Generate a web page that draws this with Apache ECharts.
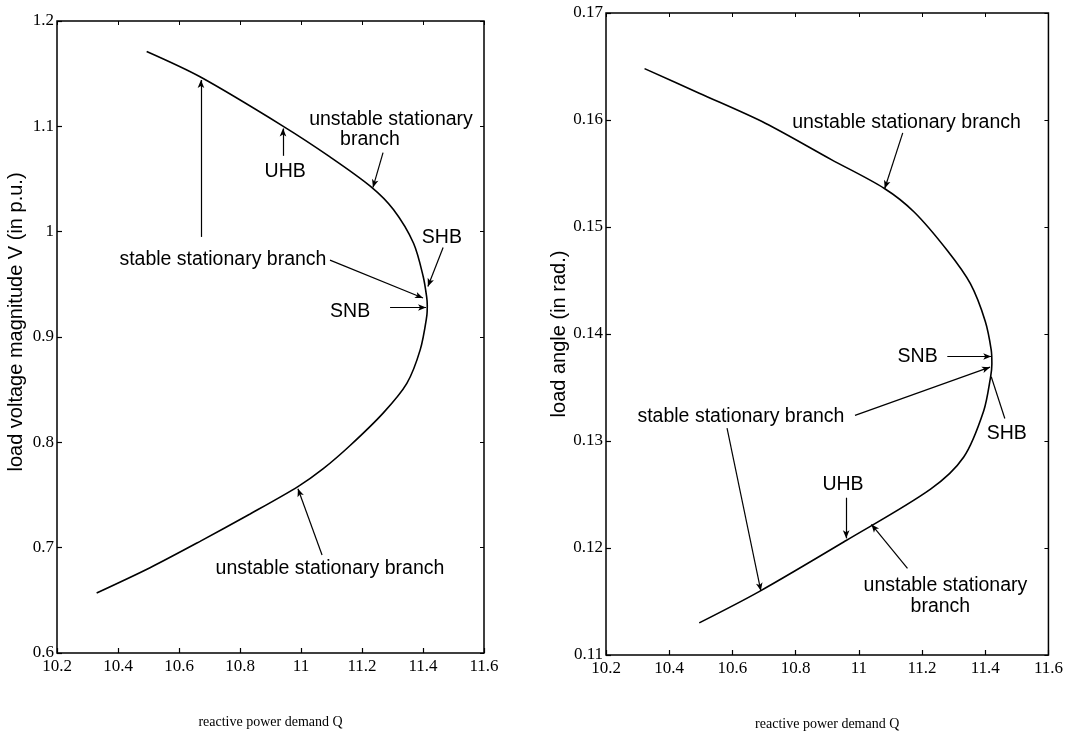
<!DOCTYPE html>
<html>
<head>
<meta charset="utf-8">
<script src="https://cdn.jsdelivr.net/npm/echarts@6/dist/echarts.min.js"></script>
<style>html,body{margin:0;padding:0;background:#fff;}#c{width:1066px;height:744px;}</style>
</head>
<body>
<div id="c"></div>
<script>
// ---- data ----
const qTicks = ['10.2','10.4','10.6','10.8','11','11.2','11.4','11.6'];
const vTicks = ['0.6','0.7','0.8','0.9','1','1.1','1.2'];
const dTicks = ['0.11','0.12','0.13','0.14','0.15','0.16','0.17'];

// left: load voltage magnitude V vs reactive power demand Q
const leftQ = [10.494, 10.669, 10.942, 11.095, 11.228, 11.303, 11.369, 11.401, 11.412, 11.414, 11.412, 11.391, 11.347, 11.270, 11.161, 11.073, 10.990, 10.833, 10.669, 10.505, 10.330];
const leftV = [1.171, 1.147, 1.100, 1.071, 1.043, 1.021, 0.989, 0.957, 0.938, 0.930, 0.919, 0.888, 0.856, 0.828, 0.797, 0.775, 0.758, 0.732, 0.706, 0.681, 0.657];

// right: load angle vs reactive power demand Q
const rightQ = [10.322, 10.495, 10.704, 10.913, 11.081, 11.175, 11.280, 11.353, 11.400, 11.419, 11.421, 11.417, 11.395, 11.332, 11.227, 10.960, 10.683, 10.495];
const rightD = [0.1648, 0.1625, 0.1597, 0.1563, 0.1536, 0.1514, 0.1478, 0.1447, 0.1412, 0.1385, 0.1372, 0.1360, 0.1328, 0.1285, 0.1255, 0.1207, 0.1159, 0.1130];

// annotations (text at data coordinates)
const leftLabels = ['unstable stationary', 'branch', 'UHB', 'stable stationary branch', 'SHB', 'SNB', 'unstable stationary branch'];
const leftLabelQ = [11.295, 11.226, 10.948, 10.744, 11.462, 11.161, 11.095];
const leftLabelV = [1.106, 1.087, 1.057, 0.973, 0.994, 0.924, 0.680];
// arrows: [q0, v0, q1, v1, headAtEnd]
const leftArrows = [
  [11.269, 1.075, 11.236, 1.042, 1],
  [10.941, 1.072, 10.941, 1.098, 1],
  [10.672, 0.995, 10.672, 1.144, 1],
  [11.095, 0.973, 11.400, 0.937, 1],
  [11.466, 0.985, 11.416, 0.948, 1],
  [11.292, 0.928, 11.410, 0.928, 1],
  [11.069, 0.693, 10.990, 0.756, 1]
];

const rightLabels = ['unstable stationary branch', 'SNB', 'stable stationary branch', 'SHB', 'UHB', 'unstable stationary', 'branch'];
const rightLabelQ = [11.151, 11.186, 10.627, 11.468, 10.950, 11.274, 11.258];
const rightLabelD = [0.1598, 0.1379, 0.1323, 0.1307, 0.1259, 0.1165, 0.1145];
const rightArrows = [
  [11.139, 0.1588, 11.082, 0.1536, 1],
  [11.280, 0.1379, 11.419, 0.1379, 1],
  [10.988, 0.1324, 11.415, 0.1369, 1],
  [10.583, 0.1312, 10.690, 0.1160, 1],
  [11.462, 0.1321, 11.419, 0.1360, 0],
  [10.960, 0.1247, 10.960, 0.1209, 1],
  [11.154, 0.1181, 11.040, 0.1222, 1]
];

// ---- helpers ----
function fmt(ticks, min, step) {
  return function (val) {
    const i = Math.round((val - min) / step);
    return ticks[i] !== undefined ? ticks[i] : '';
  };
}
function pairs(xs, ys) { return xs.map((x, i) => [x, ys[i]]); }
function arrows(list) {
  return list.map(a => [
    { coord: [a[0], a[1]], symbol: 'none' },
    { coord: [a[2], a[3]], symbol: a[4] ? 'arrow' : 'none', symbolSize: [5, 8] }
  ]);
}
function notes(labels, xs, ys) {
  return labels.map((t, i) => ({ value: [xs[i], ys[i]], name: t }));
}

const tickFont = { fontFamily: 'Liberation Serif', fontSize: 17, color: '#000' };
const nameFontX = { fontFamily: 'Liberation Serif', fontSize: 14, color: '#000' };
const noteFont = { fontFamily: 'Liberation Sans', fontSize: 19.5, color: '#000' };

function xAxes(grid) {
  return [
    {
      type: 'value', gridIndex: grid, position: 'bottom', min: 10.2, max: 11.6, interval: 0.2,
      axisLine: { show: false }, splitLine: { show: false },
      axisTick: { show: true, inside: true, length: 5, lineStyle: { color: '#000', width: 1.2 } },
      axisLabel: Object.assign({ formatter: fmt(qTicks, 10.2, 0.2), margin: 5 }, tickFont),
      name: 'reactive power demand Q', nameLocation: 'middle', nameGap: 62, nameTextStyle: nameFontX
    },
    {
      type: 'value', gridIndex: grid, position: 'top', min: 10.2, max: 11.6, interval: 0.2,
      axisLine: { show: false }, splitLine: { show: false },
      axisTick: { show: true, inside: true, length: 4, lineStyle: { color: '#000', width: 1 } },
      axisLabel: { show: false }
    }
  ];
}
function yAxes(grid, min, max, step, ticks, name, gap, shift) {
  return [
    {
      type: 'value', gridIndex: grid, position: 'left', min: min, max: max, interval: step,
      axisLine: { show: false }, splitLine: { show: false },
      axisTick: { show: true, inside: true, length: 5, lineStyle: { color: '#000', width: 1.2 } },
      axisLabel: Object.assign({ formatter: fmt(ticks, min, step), margin: 3 }, tickFont),
      name: name, nameLocation: 'middle', nameGap: gap,
      nameTextStyle: { fontFamily: 'Liberation Sans', fontSize: 20, color: '#000', padding: [0, 0, 0, shift] }
    },
    {
      type: 'value', gridIndex: grid, position: 'right', min: min, max: max, interval: step,
      axisLine: { show: false }, splitLine: { show: false },
      axisTick: { show: true, inside: true, length: 4, lineStyle: { color: '#000', width: 1 } },
      axisLabel: { show: false }
    }
  ];
}

const option = {
  animation: false,
  backgroundColor: '#fff',
  grid: [
    { left: 57, top: 21, width: 427, height: 632, show: true, borderColor: '#000', borderWidth: 1.5, backgroundColor: 'transparent' },
    { left: 606, top: 13, width: 446, height: 642, show: true, borderColor: '#000', borderWidth: 1.5, backgroundColor: 'transparent' }
  ],
  xAxis: [].concat(xAxes(0), xAxes(1)),
  yAxis: [].concat(
    yAxes(0, 0.6, 1.2, 0.1, vTicks, 'load voltage magnitude V (in p.u.)', 31, 30),
    yAxes(1, 0.11, 0.17, 0.01, dTicks, 'load angle (in rad.)', 33, 0)
  ),
  series: [
    {
      type: 'line', xAxisIndex: 0, yAxisIndex: 0, data: pairs(leftQ, leftV),
      showSymbol: false, smooth: 0.3, lineStyle: { color: '#000', width: 1.6 }, silent: true,
      markLine: { silent: true, symbol: ['none', 'arrow'], label: { show: false },
        lineStyle: { color: '#000', width: 1.2, type: 'solid' }, data: arrows(leftArrows) }
    },
    {
      type: 'line', xAxisIndex: 2, yAxisIndex: 2, data: pairs(rightQ, rightD),
      showSymbol: false, smooth: 0.3, lineStyle: { color: '#000', width: 1.6 }, silent: true,
      markLine: { silent: true, symbol: ['none', 'arrow'], label: { show: false },
        lineStyle: { color: '#000', width: 1.2, type: 'solid' }, data: arrows(rightArrows) }
    },
    {
      type: 'scatter', xAxisIndex: 0, yAxisIndex: 0, symbolSize: 0, silent: true,
      itemStyle: { opacity: 1 },
      data: notes(leftLabels, leftLabelQ, leftLabelV),
      label: Object.assign({ show: true, position: 'inside', formatter: '{b}', opacity: 1 }, noteFont)
    },
    {
      type: 'scatter', xAxisIndex: 2, yAxisIndex: 2, symbolSize: 0, silent: true,
      itemStyle: { opacity: 1 },
      data: notes(rightLabels, rightLabelQ, rightLabelD),
      label: Object.assign({ show: true, position: 'inside', formatter: '{b}', opacity: 1 }, noteFont)
    }
  ]
};

const chart = echarts.init(document.getElementById('c'), null, { renderer: 'canvas' });
chart.setOption(option);
</script>
</body>
</html>
